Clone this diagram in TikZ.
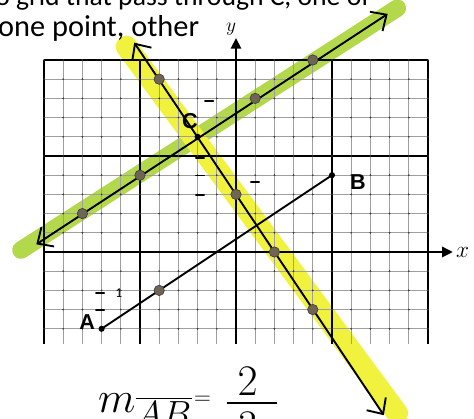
\documentclass[tikz,border=0pt]{standalone}
\usepackage{graphicx}
\usepackage{fontspec}
\setmainfont{Carlito}
\newfontfamily\labelfont{Liberation Sans}
\usetikzlibrary{arrows.meta,calc}

\definecolor{greenhl}{RGB}{180,216,76}
\definecolor{yellowhl}{RGB}{240,242,62}
\definecolor{pencildot}{RGB}{112,100,84}

\newcommand{\handwrite}[1]{\scalebox{1.3}{\fontsize{24.88}{28}\selectfont$#1$}}

\begin{document}
\begin{tikzpicture}[
  x=0.5cm, y=0.5cm,
  dot/.style={circle, fill, inner sep=0pt, minimum size=1.6mm},
  pencil/.style={circle, fill=pencildot, draw=black!75, line width=0.5pt, inner sep=0pt, minimum size=2.7mm},
  line/.style={line width=1.4pt},
  barbs/.style={line, {Straight Barb[length=3.2mm,width=6mm]}-{Straight Barb[length=3.2mm,width=6mm]}},
  minor/.style={gray!75, line width=0.7pt},
  major/.style={line width=2pt},
  axis/.style={major, -{Triangle[length=2.8mm,width=2.6mm]}},
  hlgreen/.style={greenhl, line width=13pt, line cap=round},
  hlyellow/.style={yellowhl, line width=16pt, line cap=round},
  scribble/.style={line width=1pt, line cap=round},
  ptlabel/.style={font=\labelfont\bfseries\fontsize{16}{18}\selectfont, inner sep=0pt},
  hand/.style={inner sep=0pt}
]

\useasboundingbox (-12.292,-8.698) rectangle (12.396,13.125);
\clip (-12.292,-8.698) rectangle (12.396,13.125);

%================================================
% HIGHLIGHTER
%================================================
\coordinate (gh1) at (-11.2,0.1);
\coordinate (gh2) at (8.4,12.7);
\draw[hlgreen] (gh1) -- (gh2);

\coordinate (yh1) at (-5.7,10.7);
\coordinate (yh2) at (8.4,-8.4);
\draw[hlyellow] (yh1) -- (yh2);

%================================================
% GRID AND AXES
%================================================
\foreach \x in {-9,...,9}
  \draw[minor] (\x,-4.8) -- (\x,10);
\foreach \y in {-4,...,9}
  \draw[minor] (-10,\y) -- (10,\y);
\foreach \x in {-10,-5,5,10}
  \draw[major] (\x,-4.8) -- (\x,10);
\foreach \y in {5,10}
  \draw[major] (-10,\y) -- (10,\y);
\foreach \x in {-10,...,10}
  \foreach \y in {-4,...,10}
    \fill[black!80] (\x,\y) circle (0.7pt);

\coordinate (x0) at (-10,0);
\coordinate (x1) at (11.3,0);
\coordinate (y0) at (0,-4.8);
\coordinate (y1) at (0,11.15);
\draw[axis] (x0) -- (x1);
\draw[axis] (y0) -- (y1);
\node (xlab) at (11.8,-0.05) {\fontsize{17}{19}\selectfont$x$};
\node (ylab) at (-0.26,11.6) {\fontsize{15}{17}\selectfont$y$};

%================================================
% LINES
%================================================
\node[dot] (A) at (-7,-4) {};
\node[dot] (B) at (5,4) {};
\node[dot] (C) at (-2,6) {};
\draw[line] (A.center) -- (B.center);

% parallel through C
\coordinate (ge1) at (-10.4,0.4);
\coordinate (ge2) at (7.9,12.4);
\draw[barbs] (ge1) -- (ge2);

% perpendicular through C
\coordinate (ye1) at (-5.3,10.9);
\coordinate (ye2) at (7.7,-8.5);
\draw[barbs] (ye1) -- (ye2);

\foreach \p/\q in {g1/{-8,2}, g2/{-5,4}, g3/{1,8}, g4/{4,10},
                   p1/{-4,9}, p2/{0,3}, p3/{2,0}, p4/{4,-3}, a1/{-4,-2}}
  \node[pencil] (\p) at (\q) {};

\node[ptlabel] (Alab) at (-7.75,-3.65) {A};
\node[ptlabel] (Blab) at (6.35,3.65) {B};
\node[ptlabel] (Clab) at (-2.4,6.8) {C};

% counting marks
\foreach \q in {{-7.08,-2.14}, {-7.08,-3.02}, {-1.875,4.9}, {-1.875,4.0},
                {-1.875,2.97}, {0.99,3.65}, {-1.4,7.86}}
  \draw[scribble] ($(\q)+(-0.22,0)$) -- ($(\q)+(0.22,0)$);
\node (one) at (-6.1,-2.14) {\fontsize{10}{11}\selectfont 1};

%================================================
% TEXT
%================================================
\node[anchor=base west, inner sep=0pt] (txt1) at (-12.55,12.86)
  {\fontsize{20.5}{24}\selectfont o grid that pass through C, one of};
\node[anchor=base west, inner sep=0pt] (txt2) at (-12.4,11.2)
  {\fontsize{22.5}{26}\selectfont one point, other};

% slope written below
\node[hand, anchor=base west] (slope) at (-7.19,-8.37) {\handwrite{m_{\overline{AB}}}};
\node[hand] (eq) at (-1.75,-7.72) {\fontsize{18}{20}\selectfont$=$};
\coordinate (bar1) at (-0.47,-7.86);
\coordinate (bar2) at (2.13,-7.86);
\draw[line] (bar1) -- (bar2);
\node[hand, anchor=base] (num) at (0.6,-7.45) {\handwrite{2}};
\node[hand, anchor=north] (den) at (0.6,-8.33) {\handwrite{3}};

\end{tikzpicture}
\end{document}
